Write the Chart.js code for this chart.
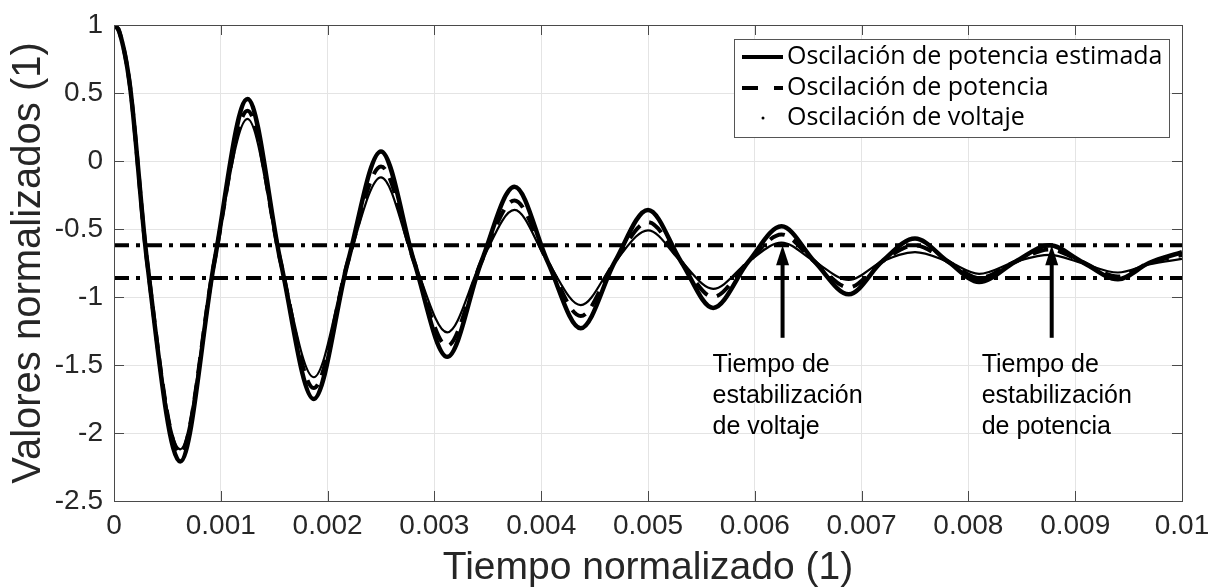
<!DOCTYPE html>
<html>
<head>
<meta charset="utf-8">
<script src="https://cdn.jsdelivr.net/npm/chart.js@4.4.1/dist/chart.umd.min.js"></script>
<style>
  html, body { margin: 0; padding: 0; background: #fff; }
  #wrap { width: 1210px; height: 588px; }
</style>
</head>
<body>
<div id="wrap"><canvas id="oscChart"></canvas></div>
<script>
// values (start, peaks, valleys and the crossings in between)
const tiempo = [0, 0.00005, 0.00015, 0.00031, 0.00062, 0.00094, 0.00125, 0.00156, 0.00187, 0.00219, 0.0025, 0.00281,
  0.00312, 0.00344, 0.00375, 0.00406, 0.00437, 0.00469, 0.005, 0.00531, 0.00561, 0.00594,
  0.00625, 0.00656, 0.00688, 0.00719, 0.0075, 0.00781, 0.0081, 0.00844, 0.00876, 0.00906,
  0.0094, 0.00969, 0.01];
const potenciaEstimada = [1, 0.95, 0.55, -0.74, -2.21, -0.74, 0.456, -0.74, -1.75, -0.74, 0.07, -0.74,
  -1.44, -0.74, -0.19, -0.74, -1.23, -0.74, -0.36, -0.74, -1.08, -0.74,
  -0.48, -0.74, -0.98, -0.74, -0.57, -0.74, -0.89, -0.74, -0.62, -0.74,
  -0.87, -0.75, -0.67];
const potencia = [1, 0.95, 0.55, -0.74, -2.15, -0.74, 0.37, -0.74, -1.67, -0.74, -0.04, -0.74,
  -1.36, -0.74, -0.29, -0.74, -1.14, -0.74, -0.45, -0.74, -1.0, -0.74,
  -0.54, -0.74, -0.93, -0.74, -0.62, -0.74, -0.86, -0.74, -0.65, -0.74,
  -0.85, -0.75, -0.69];
const voltaje = [1, 0.95, 0.55, -0.74, -2.12, -0.74, 0.31, -0.74, -1.59, -0.74, -0.12, -0.74,
  -1.26, -0.74, -0.36, -0.74, -1.06, -0.74, -0.51, -0.74, -0.94, -0.74,
  -0.6, -0.74, -0.875, -0.74, -0.67, -0.74, -0.83, -0.74, -0.69, -0.75,
  -0.82, -0.76, -0.72];
const bandaSuperior = -0.62;
const bandaInferior = -0.86;

const xTicks = [0, 0.001, 0.002, 0.003, 0.004, 0.005, 0.006, 0.007, 0.008, 0.009, 0.01];
const xTickLabels = ['0', '0.001', '0.002', '0.003', '0.004', '0.005', '0.006', '0.007', '0.008', '0.009', '0.01'];
const yTicks = [-2.5, -2, -1.5, -1, -0.5, 0, 0.5, 1];
const yTickLabels = ['-2.5', '-2', '-1.5', '-1', '-0.5', '0', '0.5', '1'];

const legendLabels = ['Oscilación de potencia estimada', 'Oscilación de potencia', 'Oscilación de voltaje'];
const flechaTiempos = [0.00626, 0.00878];
const flechaDesde = -1.30;
const flechaHasta = -0.62;
const notas = [
  ['Tiempo de', 'estabilización', 'de voltaje'],
  ['Tiempo de', 'estabilización', 'de potencia']
];

const toPoints = (ys) => tiempo.map((t, i) => ({ x: t, y: ys[i] }));
const tickColor = '#262626';
const axisFont = '"Liberation Sans", Arial, sans-serif';

// box, inward ticks, legend and the two arrows
const extras = {
  id: 'extras',
  afterDraw(chart) {
    const ctx = chart.ctx;
    const a = chart.chartArea;
    const xs = chart.scales.x, ys = chart.scales.y;
    ctx.save();

    ctx.strokeStyle = '#4a4a4a';
    ctx.lineWidth = 1;
    ctx.beginPath();
    xTicks.forEach(v => {
      const px = Math.round(xs.getPixelForValue(v)) + 0.5;
      ctx.moveTo(px, a.bottom); ctx.lineTo(px, a.bottom - 10);
      ctx.moveTo(px, a.top); ctx.lineTo(px, a.top + 10);
    });
    yTicks.forEach(v => {
      const py = Math.round(ys.getPixelForValue(v)) + 0.5;
      ctx.moveTo(a.left, py); ctx.lineTo(a.left + 10, py);
      ctx.moveTo(a.right, py); ctx.lineTo(a.right - 10, py);
    });
    ctx.stroke();
    ctx.strokeRect(Math.round(a.left) + 0.5, Math.round(a.top) + 0.5,
      Math.round(a.right - a.left), Math.round(a.bottom - a.top));

    // legend
    const bx = Math.round(a.right) - 448, by = Math.round(a.top) + 14, bw = 435, bh = 98;
    ctx.fillStyle = '#fff';
    ctx.fillRect(bx, by, bw, bh);
    ctx.strokeStyle = '#555';
    ctx.strokeRect(bx + 0.5, by + 0.5, bw, bh);
    const rows = [by + 18, by + 49, by + 79];
    ctx.strokeStyle = '#000';
    ctx.lineWidth = 4;
    ctx.beginPath(); ctx.moveTo(bx + 8, rows[0]); ctx.lineTo(bx + 49, rows[0]); ctx.stroke();
    ctx.setLineDash([16, 16]);
    ctx.beginPath(); ctx.moveTo(bx + 8, rows[1]); ctx.lineTo(bx + 49, rows[1]); ctx.stroke();
    ctx.setLineDash([]);
    ctx.fillStyle = '#000';
    ctx.beginPath(); ctx.arc(bx + 29, rows[2], 1.5, 0, Math.PI * 2); ctx.fill();
    ctx.font = '25px "Open Sans", sans-serif';
    ctx.textBaseline = 'middle';
    ctx.textAlign = 'left';
    legendLabels.forEach((txt, i) => ctx.fillText(txt, bx + 53, rows[i]));

    // arrows + notes
    ctx.font = '25px ' + axisFont;
    flechaTiempos.forEach((t, i) => {
      const px = xs.getPixelForValue(t);
      const yTip = ys.getPixelForValue(flechaHasta);
      const yBase = ys.getPixelForValue(flechaDesde);
      ctx.strokeStyle = '#000';
      ctx.lineWidth = 4;
      ctx.beginPath(); ctx.moveTo(px, yBase); ctx.lineTo(px, yTip + 16); ctx.stroke();
      ctx.beginPath();
      ctx.moveTo(px, yTip);
      ctx.lineTo(px - 6.5, yTip + 20);
      ctx.lineTo(px + 6.5, yTip + 20);
      ctx.closePath();
      ctx.fill();
      notas[i].forEach((line, j) => ctx.fillText(line, px - 70, yBase + 27 + j * 31));
    });
    ctx.restore();
  }
};

new Chart(document.getElementById('oscChart'), {
  type: 'line',
  data: {
    datasets: [
      { label: legendLabels[0], data: toPoints(potenciaEstimada), borderColor: '#000', borderWidth: 4.5 },
      { label: legendLabels[1], data: toPoints(potencia), borderColor: '#000', borderWidth: 4, borderDash: [16, 10] },
      { label: legendLabels[2], data: toPoints(voltaje), borderColor: '#000', borderWidth: 2.2 },
      { label: 'sup', data: [{ x: 0, y: bandaSuperior }, { x: 0.01, y: bandaSuperior }], borderColor: '#000', borderWidth: 4, borderDash: [15, 7, 4, 7] },
      { label: 'inf', data: [{ x: 0, y: bandaInferior }, { x: 0.01, y: bandaInferior }], borderColor: '#000', borderWidth: 4, borderDash: [15, 7, 4, 7] }
    ]
  },
  options: {
    responsive: true,
    maintainAspectRatio: false,
    animation: false,
    layout: { padding: { top: 25, right: 28, bottom: 0, left: 0 } },
    elements: {
      point: { radius: 0 },
      line: { cubicInterpolationMode: 'monotone', fill: false }
    },
    plugins: {
      legend: { display: false },
      tooltip: { enabled: false }
    },
    scales: {
      x: {
        type: 'linear',
        min: 0,
        max: 0.01,
        afterBuildTicks: (scale) => { scale.ticks = xTicks.map(v => ({ value: v })); },
        afterFit: (scale) => { scale.height = 87; scale.paddingLeft = 0; scale.paddingRight = 0; },
        border: { display: false },
        grid: { color: '#e4e4e4', drawTicks: false },
        ticks: {
          autoSkip: false,
          maxRotation: 0,
          padding: 8,
          color: tickColor,
          font: { family: axisFont, size: 28 },
          callback: (value, index) => xTickLabels[index]
        },
        title: {
          display: true,
          text: 'Tiempo normalizado (1)',
          color: tickColor,
          font: { family: axisFont, size: 39, lineHeight: 1 },
          padding: { top: 0, bottom: 0 }
        }
      },
      y: {
        min: -2.5,
        max: 1,
        afterBuildTicks: (scale) => { scale.ticks = yTicks.map(v => ({ value: v })); },
        afterFit: (scale) => { scale.width = 114; scale.paddingTop = 0; scale.paddingBottom = 0; },
        border: { display: false },
        grid: { color: '#e4e4e4', drawTicks: false },
        ticks: {
          autoSkip: false,
          padding: 11,
          color: tickColor,
          font: { family: axisFont, size: 28 },
          callback: (value, index) => yTickLabels[index]
        },
        title: {
          display: true,
          text: 'Valores normalizados (1)',
          color: tickColor,
          font: { family: axisFont, size: 40, lineHeight: 1 },
          padding: { top: 9, bottom: 0 }
        }
      }
    }
  },
  plugins: [extras]
});
</script>
</body>
</html>
